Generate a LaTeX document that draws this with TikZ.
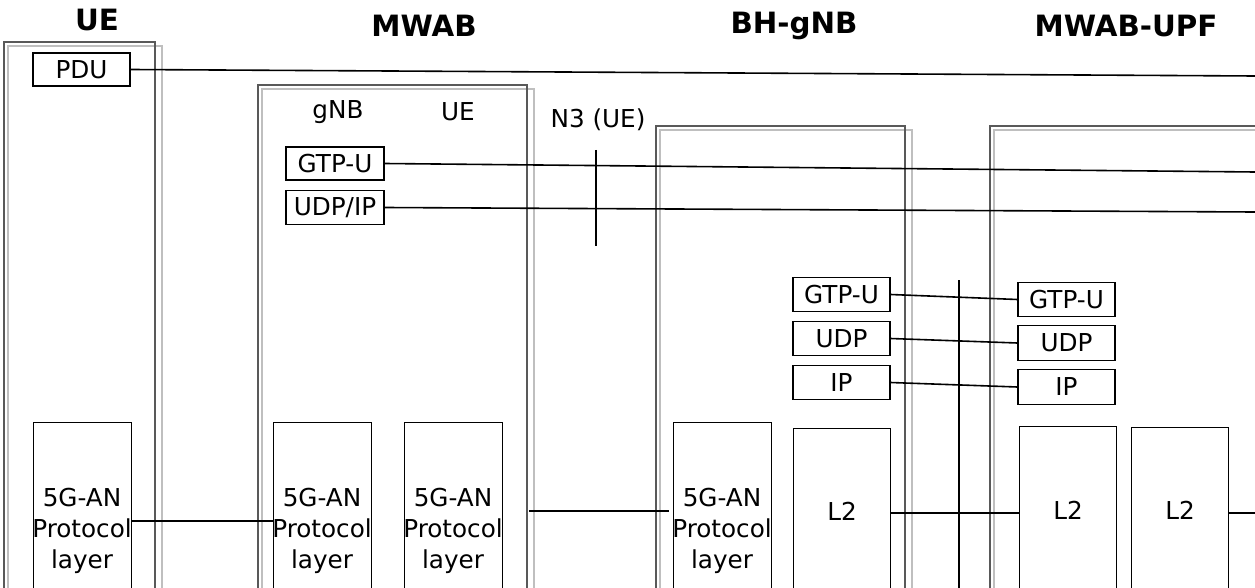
\documentclass[tikz,border=0pt]{standalone}
\usepackage{fontspec}
\setmainfont{DejaVu Sans}
\begin{document}
\begin{tikzpicture}[x=0.75pt,y=-0.75pt,
  box/.style={draw,line width=0.9pt},
  lbl/.style={font=\fontsize{18.5}{23}\selectfont,inner sep=0},
  ttl/.style={font=\bfseries\fontsize{22}{26}\selectfont,inner sep=0},
  cont/.style={draw=black!65,line width=0.9pt},
  contg/.style={draw=black!25,line width=1.5pt},
  ln/.style={line width=1.2pt}]
\clip (0,0) rectangle (1255,588);
\useasboundingbox (0,0) rectangle (1255,588);
% titles
\node[ttl] (tue) at (97,20) {UE};
\node[ttl] (tmw) at (424,26) {MWAB};
\node[ttl] (tbh) at (794,26) {BH-gNB};
\node[ttl] (tup) at (1126,26) {MWAB-UPF};
% containers
\draw[contg] (8,46) rectangle (162,600);
\draw[cont] (4,42) rectangle (155,600);
\draw[contg] (262,89) rectangle (534,600);
\draw[cont] (258,85) rectangle (527,600);
\draw[contg] (660,130) rectangle (912,600);
\draw[cont] (656,126) rectangle (905,600);
\draw[contg] (994,130) rectangle (1265,600);
\draw[cont] (990,126) rectangle (1265,600);
% UE
\node[box,lbl,minimum width=72.75pt,minimum height=24.75pt] (pdu) at (81.5,69.5) {PDU};
\node[box,anchor=north west,minimum width=73.5pt,minimum height=150pt] (ue5g) at (33,422) {};
\node[lbl,align=center] at (82,531) {5G-AN\\Protocol\\layer};
% MWAB
\node[lbl] (gnb) at (338,112) {gNB};
\node[lbl] (mue) at (458,112) {UE};
\node[box,lbl,minimum width=73.5pt,minimum height=24.75pt] (gtp1) at (335,163.5) {GTP-U};
\node[box,lbl,minimum width=73.5pt,minimum height=26pt] (udpip) at (335,207.5) {UDP/IP};
\node[box,anchor=north west,minimum width=73.5pt,minimum height=150pt] (mw5a) at (273,422) {};
\node[lbl,align=center] at (322,531) {5G-AN\\Protocol\\layer};
\node[box,anchor=north west,minimum width=73.5pt,minimum height=150pt] (mw5b) at (404,422) {};
\node[lbl,align=center] at (453,531) {5G-AN\\Protocol\\layer};
% N3
\node[lbl] (n3) at (598,120) {N3 (UE)};
\coordinate (n3t) at (596,150); \coordinate (n3b) at (596,246);
\draw[ln] (n3t) -- (n3b);
% BH-gNB
\node[box,lbl,minimum width=72.75pt,minimum height=26pt] (gtp2) at (841.5,294.5) {GTP-U};
\node[box,lbl,minimum width=72.75pt,minimum height=26pt] (udp2) at (841.5,338.5) {UDP};
\node[box,lbl,minimum width=72.75pt,minimum height=26pt] (ip2) at (841.5,382.5) {IP};
\node[box,anchor=north west,minimum width=72.75pt,minimum height=150pt] (l2a) at (793,428) {};
\node[lbl] at (842,511) {L2};
\node[box,anchor=north west,minimum width=73.5pt,minimum height=150pt] (bh5) at (673,422) {};
\node[lbl,align=center] at (722,531) {5G-AN\\Protocol\\layer};
% MWAB-UPF
\node[box,lbl,minimum width=72.75pt,minimum height=26pt] (gtp3) at (1066.5,299.5) {GTP-U};
\node[box,lbl,minimum width=72.75pt,minimum height=26pt] (udp3) at (1066.5,343) {UDP};
\node[box,lbl,minimum width=72.75pt,minimum height=26pt] (ip3) at (1066.5,387) {IP};
\node[box,anchor=north west,minimum width=72.75pt,minimum height=150pt] (l2b) at (1019,426) {};
\node[lbl] at (1068,510) {L2};
\node[box,anchor=north west,minimum width=72.75pt,minimum height=150pt] (l2c) at (1131,427) {};
\node[lbl] at (1180,510) {L2};
\coordinate (vt) at (959,280); \coordinate (vb) at (959,600);
\draw[ln] (vt) -- (vb);
% connectors
\coordinate (e1) at (1255,76); \coordinate (e2) at (1255,172); \coordinate (e3) at (1255,212);
\draw[ln] (pdu.east) -- (e1);
\draw[ln] (gtp1.east) -- (e2);
\draw[ln] (udpip.east) -- (e3);
\draw[ln] (gtp2.east) -- (gtp3.west);
\draw[ln] (udp2.east) -- (udp3.west);
\draw[ln] (ip2.east) -- (ip3.west);
\coordinate (a1) at (131,521); \coordinate (a2) at (273,521);
\draw[ln] (a1) -- (a2);
\coordinate (b1) at (529,511); \coordinate (b2) at (669,511);
\draw[ln] (b1) -- (b2);
\coordinate (c1) at (890,513); \coordinate (c2) at (1019,513);
\draw[ln] (c1) -- (c2);
\coordinate (d1) at (1228,513); \coordinate (d2) at (1255,513);
\draw[ln] (d1) -- (d2);
\end{tikzpicture}
\end{document}
